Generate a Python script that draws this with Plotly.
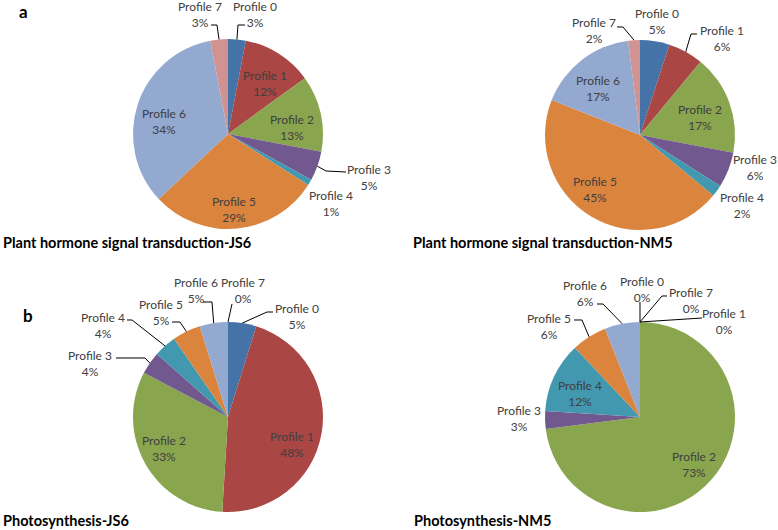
import math
import plotly.graph_objects as go

W, H = 778, 530

labels = [f"Profile {i}" for i in range(8)]
hormone_js6 = [3, 12, 13, 5, 1, 29, 34, 3]
hormone_nm5 = [5, 6, 17, 6, 2, 45, 17, 2]
photo_js6 = [5, 48, 33, 4, 4, 5, 5, 0]
photo_nm5 = [0, 0, 73, 3, 12, 6, 6, 0]
series = [hormone_js6, hormone_nm5, photo_js6, photo_nm5]
titles = [
    "Plant hormone signal transduction-JS6",
    "Plant hormone signal transduction-NM5",
    "Photosynthesis-JS6",
    "Photosynthesis-NM5",
]
panel_letters = ["a", "b"]
colors = ["#4572A7", "#AA4643", "#89A54E", "#71588F",
          "#4198AF", "#DB843D", "#93A9CF", "#D19392"]

# layout (pixels): pie boxes (left, top, size)
boxes = [(133, 39, 190), (545, 40, 190), (133, 322, 190), (545, 322, 190)]
title_pos = [(1, 242), (411, 242), (1, 520), (412, 520)]
letter_pos = [(23, 12), (28, 315)]

# label placement per pie: slice index -> (text x, text y, leader elbow points)
label_layout = [
    {0: (255, 15, [(238, 25), (245, 25)]),
     1: (265, 84, None), 2: (292, 127, None),
     3: (369, 177, [(326, 171), (346, 172)]),
     4: (331, 203, None), 5: (234, 209, None), 6: (164, 121, None),
     7: (200, 15, [(217, 25), (211, 25)])},
    {0: (657, 22, None),
     1: (722, 39, [(691, 34), (697, 34)]),
     2: (700, 117, None), 3: (755, 168, None), 4: (742, 205, None),
     5: (595, 190, None), 6: (598, 89, None),
     7: (594, 31, [(623, 27), (617, 27)])},
    {0: (297, 316, [(267, 312), (273, 312)]),
     1: (292, 444, None), 2: (164, 448, None),
     3: (90, 363, [(145, 358), (116, 358)]),
     4: (103, 325, [(132, 320), (127, 320)]),
     5: (161, 312, [(180, 322), (172, 322)]),
     6: (196, 290, [(212, 302), (203, 302)]),
     7: (243, 290, [(232, 304)])},
    {0: (642, 289, [(640, 302)]),
     1: (724, 321, [(702, 318)]),
     2: (694, 464, None), 3: (519, 418, None), 4: (580, 394, None),
     5: (549, 326, [(582, 320), (574, 320)]),
     6: (585, 293, [(603, 304), (597, 304)]),
     7: (691, 300, [(662, 296), (667, 296)])},
]

def px(x, y):
    return x / W, 1 - y / H

fig = go.Figure()
annotations = []
shapes = []
label_font = dict(family="Lato, Carlito, sans-serif", size=12, color="#404040")

for k, vals in enumerate(series):
    left, top, size = boxes[k]
    x0, y1 = px(left, top)
    x1, y0 = px(left + size, top + size)
    fig.add_trace(go.Pie(
        labels=labels, values=vals, sort=False, direction="clockwise",
        rotation=0, marker=dict(colors=colors, line=dict(width=0)),
        textinfo="none", hoverinfo="label+percent", showlegend=False,
        domain=dict(x=[x0, x1], y=[y0, y1]),
    ))
    cx, cy, r = left + size / 2, top + size / 2, size / 2
    total = sum(vals)
    cum = 0
    for i, v in enumerate(vals):
        mid = (cum + v / 2) / total
        cum += v
        tx, ty, pts = label_layout[k][i]
        ax, ay = px(tx, ty)
        annotations.append(dict(
            x=ax, y=ay, xref="paper", yref="paper", showarrow=False,
            text=f"{labels[i]}<br>{v}%", align="center",
            xanchor="center", yanchor="middle", font=label_font))
        if pts:
            th = 2 * math.pi * mid
            tipx, tipy = cx + r * math.sin(th), cy - r * math.cos(th)
            path_pts = [(tipx, tipy)] + pts
            d = "M " + " L ".join(
                f"{px(a, b)[0]:.5f},{px(a, b)[1]:.5f}" for a, b in path_pts)
            shapes.append(dict(type="path", path=d, xref="paper", yref="paper",
                               line=dict(color="#000000", width=1)))
    tpx, tpy = px(*title_pos[k])
    annotations.append(dict(
        x=tpx, y=tpy, xref="paper", yref="paper", showarrow=False,
        text=f"<b>{titles[k]}</b>", xanchor="left", yanchor="middle",
        font=dict(family="Lato, Carlito, sans-serif", size=14.5, color="#000000")))

for letter, (lx, ly) in zip(panel_letters, letter_pos):
    a, b = px(lx, ly)
    annotations.append(dict(
        x=a, y=b, xref="paper", yref="paper", showarrow=False,
        text=f"<b>{letter}</b>", xanchor="center", yanchor="middle",
        font=dict(family="Lato, Carlito, sans-serif", size=17, color="#000000")))

fig.update_layout(
    width=W, height=H, autosize=False,
    margin=dict(l=0, r=0, t=0, b=0),
    paper_bgcolor="white", plot_bgcolor="white",
    annotations=annotations, shapes=shapes,
)

fig.write_html("out.html",
               config={"displayModeBar": False},
               post_script="document.body.style.margin='0';"
                           "document.body.style.overflow='hidden';")
